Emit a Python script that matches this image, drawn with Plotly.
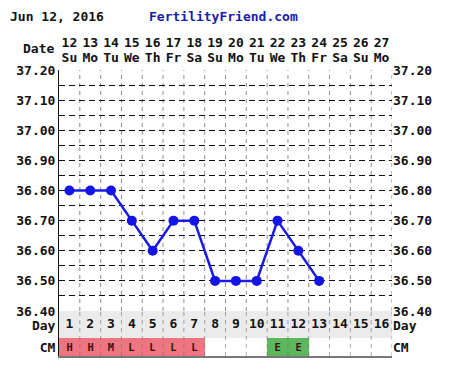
import plotly.graph_objects as go

# ---- data ----
cycle_days = list(range(1, 17))
dates = [12, 13, 14, 15, 16, 17, 18, 19, 20, 21, 22, 23, 24, 25, 26, 27]
weekdays = ["Su", "Mo", "Tu", "We", "Th", "Fr", "Sa", "Su", "Mo", "Tu", "We", "Th", "Fr", "Sa", "Su", "Mo"]
temp_days = list(range(1, 14))
temps = [36.80, 36.80, 36.80, 36.70, 36.60, 36.70, 36.70, 36.50, 36.50, 36.50, 36.70, 36.60, 36.50]
cm_days = [1, 2, 3, 4, 5, 6, 7, 11, 12]
cm_codes = ["H", "H", "M", "L", "L", "L", "L", "E", "E"]
y_ticks = [36.40, 36.50, 36.60, 36.70, 36.80, 36.90, 37.00, 37.10, 37.20]
header_date = "Jun 12, 2016"
header_site = "FertilityFriend.com"

FONT = "DejaVu Sans Mono"
W, H = 463, 373
L, R, T, B = 59, 392, 70, 356
MAIN_BOTTOM = 311
main_dom0 = (B - MAIN_BOTTOM) / (B - T)
Y_RANGE = [36.40, 37.20]
Y2_RANGE = [0, 45]

def px(x):
    return (x - L) / (R - L)

def py(y):
    return (B - y) / (B - T)

cm_colors = {"H": "#f07582", "M": "#f07582", "L": "#f07582", "E": "#5cb85c"}
boundaries = [d - 0.5 for d in cycle_days] + [cycle_days[-1] + 0.5]

fig = go.Figure()

# temperature line
fig.add_trace(go.Scatter(
    x=temp_days, y=temps, mode="lines+markers",
    line=dict(color="#1a1ae6", width=2.5),
    marker=dict(color="#1414e6", size=10),
    xaxis="x", yaxis="y", hoverinfo="skip", showlegend=False,
))

# CM cells
fig.add_trace(go.Bar(
    x=cm_days, y=[18] * len(cm_days), base=0, width=1,
    marker=dict(color=[cm_colors[c] for c in cm_codes], line=dict(width=0)),
    text=cm_codes, textposition="inside", insidetextanchor="middle", textangle=0,
    textfont=dict(family=FONT, size=13, color="#3a1010", weight="bold"),
    xaxis="x2", yaxis="y2", hoverinfo="skip", showlegend=False,
))

# Day numbers row
fig.add_trace(go.Scatter(
    x=cycle_days, y=[31] * len(cycle_days), mode="text",
    text=[str(d) for d in cycle_days],
    textfont=dict(family=FONT, size=13, color="#111", weight="bold"),
    xaxis="x2", yaxis="y2", hoverinfo="skip", showlegend=False,
))

# invisible helper traces so the overlay axes (top dates, right labels) get drawn
for xa, ya, yv in [("x3", "y", 36.8), ("x4", "y", 36.8), ("x", "y3", 36.8), ("x2", "y4", 9)]:
    fig.add_trace(go.Scatter(x=[1], y=[yv], mode="markers", marker=dict(opacity=0),
                             xaxis=xa, yaxis=ya, hoverinfo="skip", showlegend=False))

tickfont = dict(family=FONT, size=13, color="#111", weight="bold")
xbase = dict(range=[0.5, 16.5], tickmode="array", tickvals=cycle_days,
             showticklabels=False, showgrid=False, zeroline=False, ticks="",
             automargin=False)

# day-column separators (grid) as dashed lines at column boundaries
shapes = [dict(type="rect", xref="x2", yref="y2", x0=0.5, x1=16.5, y0=18, y1=45,
               fillcolor="#ebebeb", line=dict(width=0), layer="below")]
for bnd in boundaries[1:]:
    shapes.append(dict(type="line", xref="x", yref="y", x0=bnd, x1=bnd,
                       y0=Y_RANGE[0], y1=Y_RANGE[1],
                       line=dict(color="#8c8c8c", width=1, dash="4px,4px"),
                       layer="below"))
    shapes.append(dict(type="line", xref="x2", yref="y2", x0=bnd, x1=bnd,
                       y0=Y2_RANGE[0], y1=Y2_RANGE[1],
                       line=dict(color="rgba(110,110,110,0.6)", width=1, dash="4px,4px"),
                       layer="above"))

fig.update_layout(
    width=W, height=H,
    margin=dict(l=L, r=W - R, t=T, b=H - B),
    paper_bgcolor="white", plot_bgcolor="white",
    bargap=0,
    xaxis=dict(**xbase, anchor="y", domain=[0, 1],
               showline=True, linecolor="#777", linewidth=2),
    xaxis2=dict(**xbase, anchor="y2", domain=[0, 1],
                showline=True, linecolor="#777", linewidth=2),
    xaxis3=dict(overlaying="x", side="top", anchor="y", range=[0.5, 16.5],
                tickmode="array", tickvals=cycle_days,
                ticktext=[str(d) for d in dates], ticklabelstandoff=19,
                tickfont=tickfont, showgrid=False, zeroline=False, ticks="",
                automargin=False),
    xaxis4=dict(overlaying="x", side="top", anchor="y", range=[0.5, 16.5],
                tickmode="array", tickvals=cycle_days,
                ticktext=weekdays, ticklabelstandoff=4,
                tickfont=tickfont, showgrid=False, zeroline=False, ticks="",
                automargin=False),
    yaxis=dict(domain=[main_dom0, 1], range=Y_RANGE, anchor="x",
               tickmode="array", tickvals=y_ticks,
               ticktext=[f"{v:.2f}" for v in y_ticks],
               tickfont=tickfont, showgrid=True, gridcolor="#111",
               griddash="6px,4px", gridwidth=1,
               minor=dict(tick0=36.45, dtick=0.1, showgrid=True, gridcolor="#111",
                          griddash="6px,4px", gridwidth=1, ticks=""),
               showline=True, linecolor="#111", linewidth=1, zeroline=False, ticks="",
               automargin=False),
    yaxis3=dict(overlaying="y", side="right", anchor="x", range=Y_RANGE,
                tickmode="array", tickvals=y_ticks,
                ticktext=[f"{v:.2f}" for v in y_ticks],
                tickfont=tickfont, showgrid=False, zeroline=False, ticks="",
                automargin=False),
    yaxis2=dict(domain=[0, main_dom0], range=Y2_RANGE, anchor="x2",
                tickmode="array", tickvals=[9, 31], ticktext=["CM", "Day"],
                tickfont=tickfont, showgrid=False, zeroline=False, ticks="",
                showline=True, linecolor="#111", linewidth=1, automargin=False),
    yaxis4=dict(overlaying="y2", side="right", anchor="x2", range=Y2_RANGE,
                tickmode="array", tickvals=[9, 31], ticktext=["CM", "Day"],
                tickfont=tickfont, showgrid=False, zeroline=False, ticks="",
                automargin=False),
    shapes=shapes,
    annotations=[
        dict(text=header_date, xref="paper", yref="paper", x=px(8), y=py(16),
             xanchor="left", yanchor="middle", showarrow=False,
             font=dict(family=FONT, size=13, color="#111", weight="bold")),
        dict(text=header_site, xref="paper", yref="paper", x=px(147), y=py(16),
             xanchor="left", yanchor="middle", showarrow=False,
             font=dict(family=FONT, size=13, color="#1c1caa", weight="bold")),
        dict(text="Date", xref="paper", yref="paper", x=px(56), y=py(48),
             xanchor="right", yanchor="middle", showarrow=False,
             font=dict(family=FONT, size=13, color="#111", weight="bold")),
    ],
)

fig.write_html("out.html", config={"displayModeBar": False},
               post_script="document.body.style.margin='0';")
